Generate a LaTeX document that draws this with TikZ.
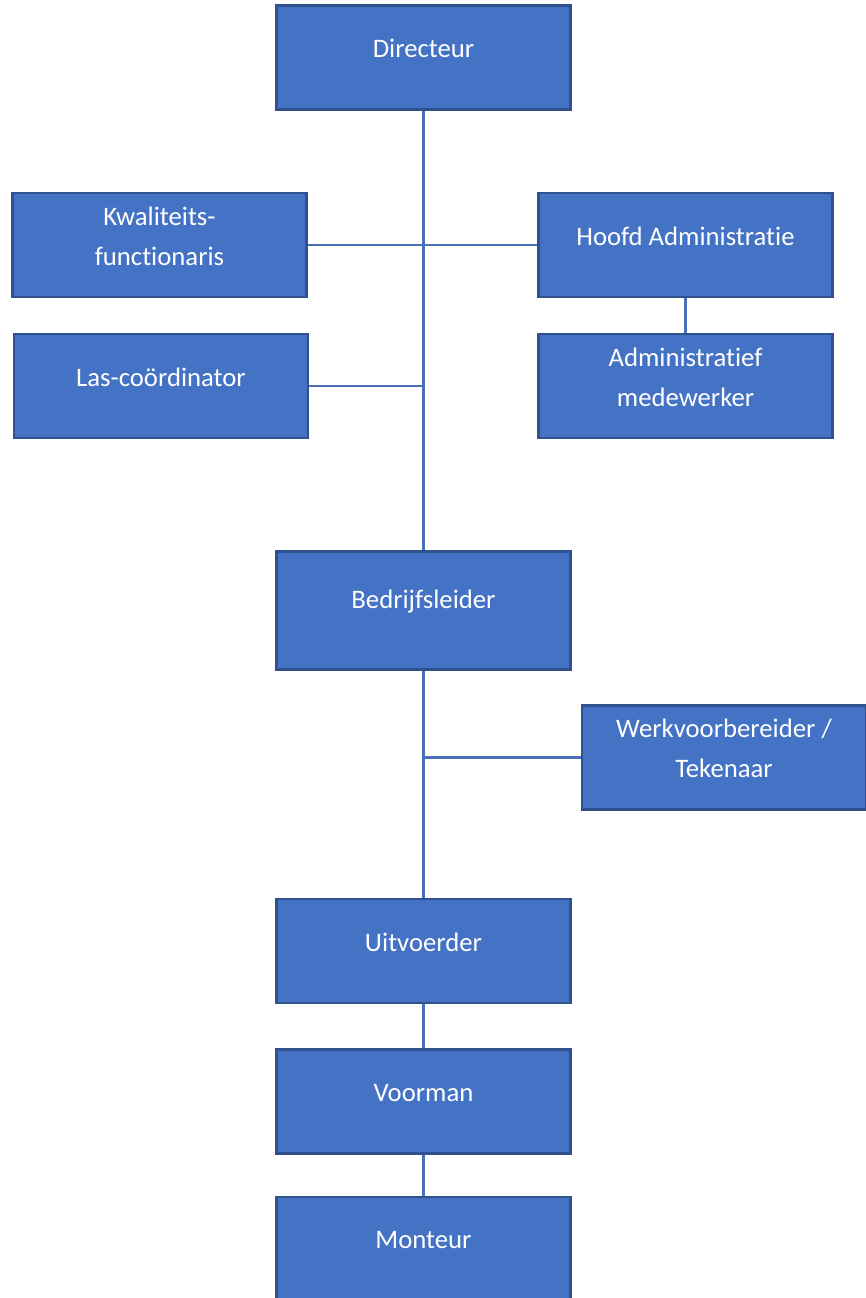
\documentclass[tikz,border=0pt]{standalone}
\usepackage{fontspec}
\setmainfont[Ligatures=NoCommon]{Carlito}
\definecolor{boxfill}{HTML}{4472C4}
\definecolor{boxline}{HTML}{2F528F}
\definecolor{conline}{HTML}{4A70B8}
\tikzset{
  box/.style={draw=boxline,fill=boxfill,line width=1.6pt,minimum width=7.35cm,minimum height=2.6cm,inner sep=0pt},
  txt/.style={text=white,font=\fontsize{19}{28.5}\selectfont,align=center,yshift=0.22cm},
  con/.style={draw=conline,line width=1.6pt}
}
\begin{document}
\begin{tikzpicture}[x=0.025cm,y=-0.025cm]
                        \useasboundingbox[fill=white] (0,0) rectangle (866,1298);
                        \node[box,label={[txt]center:Directeur}] (dir) at (423.5,57.5) {};
                        \node[box,label={[txt]center:{Kwaliteits-\\functionaris}}] (kwal) at (159.5,245) {};
                        \node[box,label={[txt]center:Hoofd Administratie}] (hoofd) at (685.5,245) {};
                        \node[box,label={[txt]center:Las-coördinator}] (las) at (161,386) {};
                        \node[box,label={[txt]center:{Administratief\\medewerker}}] (adm) at (685.5,386) {};
                        \node[box,minimum height=2.95cm,label={[txt]center:Bedrijfsleider}] (bedr) at (423.5,610.5) {};
                        \node[box,minimum width=7.1cm,label={[txt]center:{Werkvoorbereider /\\Tekenaar}}] (werk) at (724,757.5) {};
                        \node[box,label={[txt]center:Uitvoerder}] (uitv) at (423.5,951) {};
                        \node[box,label={[txt]center:Voorman}] (voor) at (423.5,1101.5) {};
                        \node[box,label={[txt]center:Monteur}] (mont) at (423.5,1249) {};
                        % lijnen
                        \draw[con] (dir.south) -- (bedr.north);
                        \draw[con] (kwal.east) -- (hoofd.west);
                        \draw[con] (las.east) -- (las.east -| dir.south);
                        \draw[con] (hoofd.south) -- (adm.north);
                        \draw[con] (bedr.south) -- (uitv.north);
                        \draw[con] (werk.west) -- (werk.west -| bedr.south);
                        \draw[con] (uitv.south) -- (voor.north);
                        \draw[con] (voor.south) -- (mont.north);
                    \end{tikzpicture}
\end{document}
